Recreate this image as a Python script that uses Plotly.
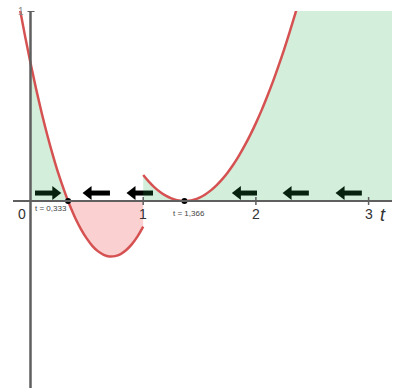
import plotly.graph_objects as go

# Sign chart of the rate function: negative-left branch on [.., 1], second branch on [1, ..]
t_left = [-0.15, -0.1, -0.05, 0.0, 0.05, 0.1, 0.15, 0.2, 0.25, 0.3, 0.3333,
          0.35, 0.4, 0.45, 0.5, 0.55, 0.6, 0.65, 0.7, 0.75, 0.8, 0.85, 0.9, 0.95, 1.0]
f_left = [1.196, 1.029, 0.873, 0.726, 0.589, 0.462, 0.345, 0.238, 0.140, 0.053, 0.0,
          -0.025, -0.093, -0.150, -0.198, -0.237, -0.265, -0.283, -0.292, -0.290, -0.279,
          -0.258, -0.227, -0.186, -0.135]

t_right = [1.0, 1.05, 1.1, 1.15, 1.2, 1.25, 1.3, 1.366, 1.4, 1.45, 1.5, 1.55, 1.6, 1.65,
           1.7, 1.75, 1.8, 1.85, 1.9, 1.95, 2.0, 2.05, 2.1, 2.15, 2.2, 2.25, 2.3, 2.35,
           2.4, 2.45]
f_right = [0.137, 0.102, 0.072, 0.048, 0.028, 0.014, 0.0044, 0.0, 0.0012, 0.0072, 0.0183,
           0.0345, 0.0559, 0.0823, 0.1138, 0.1504, 0.192, 0.239, 0.291, 0.348, 0.410,
           0.477, 0.550, 0.627, 0.710, 0.797, 0.890, 0.988, 1.091, 1.199]

# Equilibrium points and their labels
eq_t = [0.3333, 1.366]
eq_labels = ["t = 0,333", "t = 1,366"]

# Direction arrows on the phase line (tail -> head)
arrow_tail = [0.04, 0.705, 1.087, 2.01, 2.47, 2.94]
arrow_head = [0.26, 0.475, 0.865, 1.80, 2.25, 2.72]
arrow_level = 0.042

x_ticks = [1, 2, 3]
x_range = [-0.2706, 3.2076]
y_range = [-0.984, 1.0]

GREEN = "rgba(34,170,68,0.2)"
RED = "rgba(230,40,40,0.22)"
CURVE = "#d65252"
AXIS = "#5f5f5f"
FONT = "Liberation Sans, Arial, sans-serif"

fig = go.Figure()

# arrows (drawn first so the translucent fills tint them)
for a, b in zip(arrow_tail, arrow_head):
    d = 1 if b > a else -1
    fig.add_trace(go.Scatter(x=[a, b - d * 0.06], y=[arrow_level, arrow_level],
                             mode="lines", line=dict(color="black", width=5),
                             hoverinfo="skip"))
    fig.add_trace(go.Scatter(x=[b - d * 0.04], y=[arrow_level], mode="markers",
                             marker=dict(symbol="triangle-right" if d > 0 else "triangle-left",
                                         size=12, color="black", line=dict(width=0)),
                             hoverinfo="skip"))

# green fill on [0, 1/3]
gx = [t for t in t_left if 0 <= t <= eq_t[0]]
gy = [f for t, f in zip(t_left, f_left) if 0 <= t <= eq_t[0]]
fig.add_trace(go.Scatter(x=[gx[0]] + gx + [gx[-1]], y=[0] + gy + [0], fill="toself",
                         fillcolor=GREEN, mode="none", hoverinfo="skip"))

# red fill on [1/3, 1]
rx = [t for t in t_left if t >= eq_t[0]]
ry = [f for t, f in zip(t_left, f_left) if t >= eq_t[0]]
fig.add_trace(go.Scatter(x=rx + [rx[-1]], y=ry + [0], fill="toself",
                         fillcolor=RED, mode="none", hoverinfo="skip"))

# green fill from t = 1 to the right edge
top = max(f_right)
fx = [t_right[0]] + t_right + [x_range[1] + 0.1, x_range[1] + 0.1]
fy = [0] + f_right + [top, 0]
fig.add_trace(go.Scatter(x=fx, y=fy, fill="toself", fillcolor=GREEN, mode="none",
                         hoverinfo="skip"))

# curves
for xs, ys in ((t_left, f_left), (t_right, f_right)):
    fig.add_trace(go.Scatter(x=xs, y=ys, mode="lines",
                             line=dict(color=CURVE, width=2.5, shape="spline"),
                             hoverinfo="skip"))

# equilibrium dots
fig.add_trace(go.Scatter(x=eq_t, y=[0, 0], mode="markers",
                         marker=dict(color="black", size=6), hoverinfo="skip"))

shapes = [
    dict(type="line", x0=-0.155, x1=x_range[1], y0=0, y1=0,
         line=dict(color=AXIS, width=2), layer="above"),
    dict(type="line", x0=0, x1=0, y0=y_range[0], y1=y_range[1],
         line=dict(color=AXIS, width=2.5), layer="above"),
    dict(type="line", xsizemode="pixel", xanchor=0, x0=-3, x1=4, y0=1, y1=1,
         line=dict(color=AXIS, width=2), layer="above"),
]
for t in x_ticks:
    shapes.append(dict(type="line", ysizemode="pixel", yanchor=0, y0=-4, y1=4,
                       x0=t, x1=t, line=dict(color=AXIS, width=1.5), layer="above"))

annotations = []
for t in x_ticks:
    annotations.append(dict(x=t, y=0, text=str(t), showarrow=False, yanchor="top",
                            yshift=-3, font=dict(size=14, color="#333", family=FONT)))
annotations.append(dict(x=0, y=0, text="0", showarrow=False, yanchor="top", yshift=-3,
                        xshift=-9, font=dict(size=14, color="#333", family=FONT)))
annotations.append(dict(x=0, y=1, text="1", showarrow=False, yanchor="middle",
                        xshift=-10, font=dict(size=10, color="#888", family=FONT)))
annotations.append(dict(x=0, y=-1, text="-1", showarrow=False, yanchor="middle",
                        yshift=10, xshift=-10, font=dict(size=11, color="#888", family=FONT)))
annotations.append(dict(x=eq_t[0], y=0, text=eq_labels[0], showarrow=False,
                        xanchor="right", yanchor="top", xshift=1, yshift=-1,
                        font=dict(size=8, color="#444", family=FONT)))
annotations.append(dict(x=eq_t[1], y=0, text=eq_labels[1], showarrow=False,
                        xanchor="center", yanchor="top", xshift=5, yshift=-6,
                        font=dict(size=8, color="#444", family=FONT)))
annotations.append(dict(x=3.128, y=0, text="<i>t</i>", showarrow=False, yanchor="top",
                        yshift=-2, font=dict(size=18, color="#333", family=FONT)))

fig.update_layout(
    width=394, height=388,
    margin=dict(l=0, r=2, t=11, b=0),
    paper_bgcolor="white", plot_bgcolor="white",
    showlegend=False,
    xaxis=dict(range=x_range, visible=False, fixedrange=True),
    yaxis=dict(range=y_range, visible=False, fixedrange=True),
    shapes=shapes, annotations=annotations,
)

fig.write_html("out.html")
